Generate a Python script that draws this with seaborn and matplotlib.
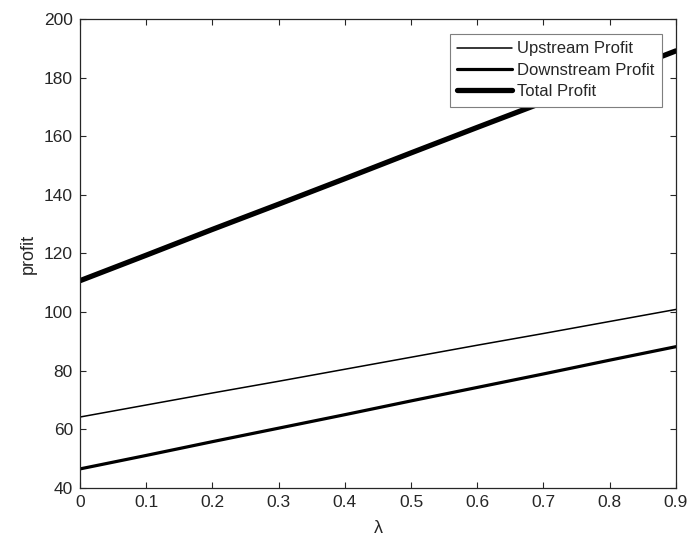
import pandas as pd
import matplotlib
matplotlib.use("Agg")
import matplotlib.pyplot as plt
import seaborn as sns

# values
lam = [0.0, 0.1, 0.2, 0.3, 0.4, 0.5, 0.6, 0.7, 0.8, 0.9]
upstream = [64.2, 68.3, 72.4, 76.4, 80.5, 84.6, 88.7, 92.7, 96.8, 100.9]
downstream = [46.5, 51.1, 55.8, 60.4, 65.0, 69.7, 74.3, 78.9, 83.6, 88.2]
total = [110.7, 119.4, 128.2, 136.8, 145.5, 154.3, 163.0, 171.6, 180.4, 189.1]

series = ["Upstream Profit", "Downstream Profit", "Total Profit"]
widths = [1.1, 2.3, 3.8]

df = pd.DataFrame({"lam": lam * 3,
                   "profit": upstream + downstream + total,
                   "series": [s for s in series for _ in lam]})

sns.set_style("ticks")
plt.rcParams['font.family'] = ['Liberation Sans', 'DejaVu Sans']

fig = plt.figure(figsize=(6.89, 5.41), dpi=100)
ax = fig.add_axes([0.116, 0.098, 0.865, 0.867])

for name, lw in zip(series, widths):
    sns.lineplot(data=df[df["series"] == name], x="lam", y="profit",
                 color="black", linewidth=lw, label=name, ax=ax)

ax.set_xlim(0, 0.9)
ax.set_ylim(40, 200)
ax.set_xticks(lam)
ax.set_xticklabels(["0", "0.1", "0.2", "0.3", "0.4", "0.5", "0.6", "0.7", "0.8", "0.9"])
ax.set_yticks(range(40, 201, 20))

for side in ["top", "right", "left", "bottom"]:
    ax.spines[side].set_visible(True)
    ax.spines[side].set_color("#262626")
    ax.spines[side].set_linewidth(0.9)
ax.tick_params(direction="in", top=True, right=True, length=4.5, width=0.8,
               colors="#262626", labelsize=12.5, pad=5)

ax.set_xlabel("λ", fontsize=13, color="#262626", labelpad=7)
ax.set_ylabel("profit", fontsize=13, color="#262626", labelpad=5)

leg = ax.legend(loc="upper right", fontsize=12, frameon=True, fancybox=False,
                edgecolor="#7f7f7f", framealpha=1, borderaxespad=0,
                bbox_to_anchor=(662 / 689, 1 - 34 / 541),
                bbox_transform=fig.transFigure,
                handlelength=3.3, handletextpad=0.3, labelspacing=0.38,
                borderpad=0.45)
leg.get_frame().set_linewidth(0.8)

fig.savefig("out.png", dpi=100)
